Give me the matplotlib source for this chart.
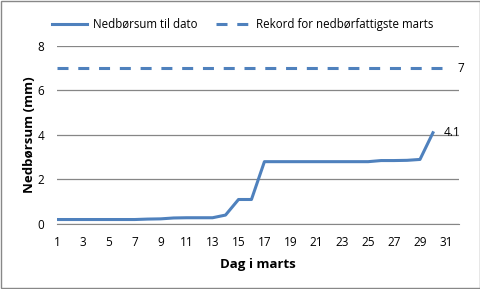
import matplotlib
matplotlib.use("Agg")
import matplotlib.pyplot as plt
from matplotlib.patches import Rectangle

plt.rcParams["font.family"] = ["Open Sans", "DejaVu Sans"]

days = list(range(1, 31))
rain_sum = [0.2, 0.2, 0.2, 0.2, 0.2, 0.2, 0.2, 0.22, 0.23, 0.27,
            0.28, 0.28, 0.28, 0.4, 1.1, 1.1, 2.8, 2.8, 2.8, 2.8,
            2.8, 2.8, 2.8, 2.8, 2.8, 2.85, 2.85, 2.86, 2.9, 4.1]
record_days = [1, 31]
record_value = 7
tick_days = list(range(1, 32, 2))

blue = "#4F81BD"
grid_col = "#868686"

fig = plt.figure(figsize=(4.81, 2.89), dpi=100)
ax = fig.add_axes([0.1185, 0.225, 0.954 - 0.1185, 0.841 - 0.225])

ax.plot(days, rain_sum, color=blue, lw=2.2, label="Nedbørsum til dato")
ax.plot(record_days, [record_value] * 2, color=blue, lw=2.2, ls=(0, (3.6, 3.2)),
        label="Rekord for nedbørfattigste marts")

ax.annotate(f"{rain_sum[-1]}", (days[-1], rain_sum[-1]), xytext=(8, 0),
            textcoords="offset points", va="center", fontsize=8.5)
ax.annotate(f"{record_value}", (record_days[-1], record_value), xytext=(8, 0),
            textcoords="offset points", va="center", fontsize=8.5)

ax.set_xlim(1, 32)
ax.set_ylim(0, 8)
ax.set_xticks(tick_days)
ax.set_yticks([0, 2, 4, 6, 8])
ax.tick_params(length=0, labelsize=8.5)
ax.tick_params(axis="x", pad=9)
ax.tick_params(axis="y", pad=9)
ax.yaxis.grid(True, color=grid_col, lw=0.9)
ax.set_axisbelow(True)
for side in ["left", "right", "top"]:
    ax.spines[side].set_visible(False)
ax.spines["bottom"].set_color(grid_col)

ax.set_xlabel("Dag i marts", fontsize=9.5, fontweight="bold", labelpad=6)
ax.set_ylabel("Nedbørsum (mm)", fontsize=9.5, fontweight="bold", labelpad=1)

fig.legend(loc="upper center", bbox_to_anchor=(0.505, 0.975), ncol=2,
           frameon=False, fontsize=8.3, handlelength=3, handletextpad=0.5,
           columnspacing=1.6)

fig.patches.append(Rectangle((0.002, 0.003), 0.995, 0.994, transform=fig.transFigure,
                             fill=False, edgecolor="#888888", lw=1))

fig.savefig("out.png", dpi=100)
